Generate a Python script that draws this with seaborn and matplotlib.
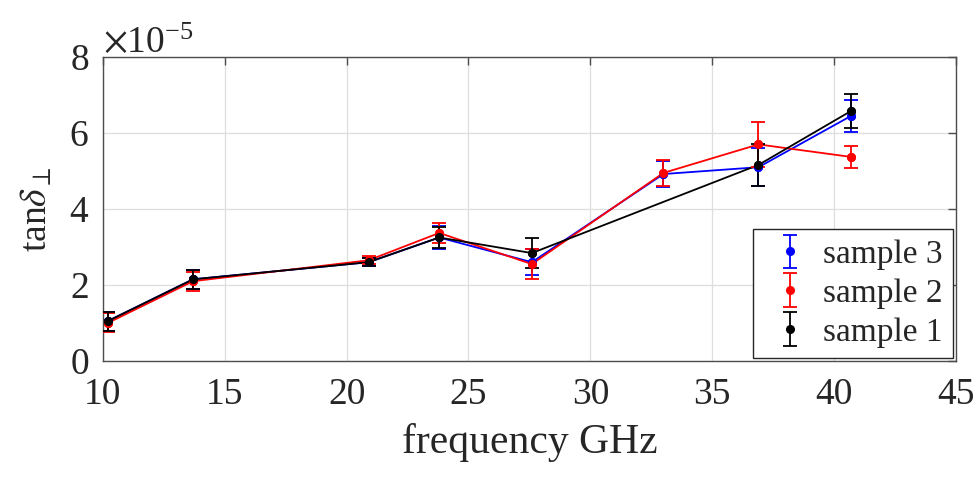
import numpy as np
import pandas as pd
import matplotlib
matplotlib.use("Agg")
import matplotlib.pyplot as plt
import seaborn as sns
from matplotlib.ticker import ScalarFormatter

# ---- data (values in units of 1e-5) ----
freq_s3 = [10.2, 13.7, 20.9, 23.8, 27.6, 33.0, 36.9, 40.7]
tan_s3 = [1.05, 2.15, 2.60, 3.25, 2.60, 4.92, 5.10, 6.45]
err_s3 = [0.25, 0.25, 0.10, 0.30, 0.35, 0.35, 0.50, 0.42]

freq_s2 = [10.2, 13.7, 20.9, 23.8, 27.6, 33.0, 36.9, 40.7]
tan_s2 = [1.00, 2.10, 2.65, 3.37, 2.55, 4.95, 5.70, 5.37]
err_s2 = [0.25, 0.25, 0.10, 0.27, 0.40, 0.35, 0.60, 0.30]

freq_s1 = [10.2, 13.7, 20.9, 23.8, 27.6, 36.9, 40.7]
tan_s1 = [1.05, 2.15, 2.60, 3.25, 2.84, 5.16, 6.58]
err_s1 = [0.25, 0.25, 0.10, 0.28, 0.40, 0.55, 0.45]

labels = ["sample 3", "sample 2", "sample 1"]
colors = {"sample 3": "#0000FF", "sample 2": "#FF0000", "sample 1": "#000000"}
xticks = [10, 15, 20, 25, 30, 35, 40, 45]
yticks = [0, 2, 4, 6, 8]
scale = 1e-5

series = {
    "sample 3": (freq_s3, tan_s3, err_s3),
    "sample 2": (freq_s2, tan_s2, err_s2),
    "sample 1": (freq_s1, tan_s1, err_s1),
}

rows = []
for name, (f, t, e) in series.items():
    for fi, ti, ei in zip(f, t, e):
        rows.append({"freq": fi, "tan": ti * scale, "err": ei * scale, "sample": name})
df = pd.DataFrame(rows)

sns.set_theme(style="white")
plt.rcParams["font.family"] = ["Liberation Serif", "DejaVu Serif"]
plt.rcParams["mathtext.fontset"] = "stix"

fig = plt.figure(figsize=(9.8, 4.83), dpi=100)
ax = fig.add_axes([0.105, 0.2526, 0.8704, 0.6294])

sns.lineplot(data=df, x="freq", y="tan", hue="sample", hue_order=labels,
             palette=colors, marker="o", markersize=6.5, markeredgewidth=0,
             linewidth=1.3, sort=False, legend=False, ax=ax, zorder=3)

handles = []
for name in labels:
    sub = df[df["sample"] == name]
    h = ax.errorbar(sub["freq"], sub["tan"], yerr=sub["err"], fmt="o",
                    color=colors[name], markersize=5.5, capsize=5,
                    elinewidth=1.3, capthick=1.3, label=name, zorder=3)
    handles.append(h)

ax.set_xlim(10, 45)
ax.set_ylim(0, 8 * scale)
ax.set_xticks(xticks)
ax.set_yticks([v * scale for v in yticks])

fmt = ScalarFormatter(useMathText=True)
fmt.set_powerlimits((0, 0))
ax.yaxis.set_major_formatter(fmt)
ax.yaxis.get_offset_text().set_fontsize(27)
ax.yaxis.get_offset_text().set_color("#262626")

ax.grid(True, color="#dedede", linewidth=0.9)
ax.set_axisbelow(True)
for s in ax.spines.values():
    s.set_visible(True)
    s.set_color("#4d4d4d")
    s.set_linewidth(1.0)
ax.tick_params(axis="both", direction="in", length=6, width=1.0, color="#4d4d4d",
               labelsize=27, labelcolor="#262626", top=True, right=True)
ax.tick_params(axis="x", pad=12)
ax.tick_params(axis="y", pad=10)

ax.set_xlabel("frequency GHz", fontsize=30, color="#262626", labelpad=8)
ax.set_ylabel(r"tan$\delta_{\perp}$", fontsize=27, color="#262626", labelpad=10)

leg = ax.legend(handles=handles, labels=labels, loc="lower right", fontsize=24,
                frameon=True, fancybox=False, framealpha=1, edgecolor="#262626",
                borderaxespad=0.1, handletextpad=0.2, labelspacing=0.25,
                handlelength=1.6, borderpad=0.3)
leg.get_frame().set_linewidth(1.0)

fig.savefig("out.png", dpi=100)
